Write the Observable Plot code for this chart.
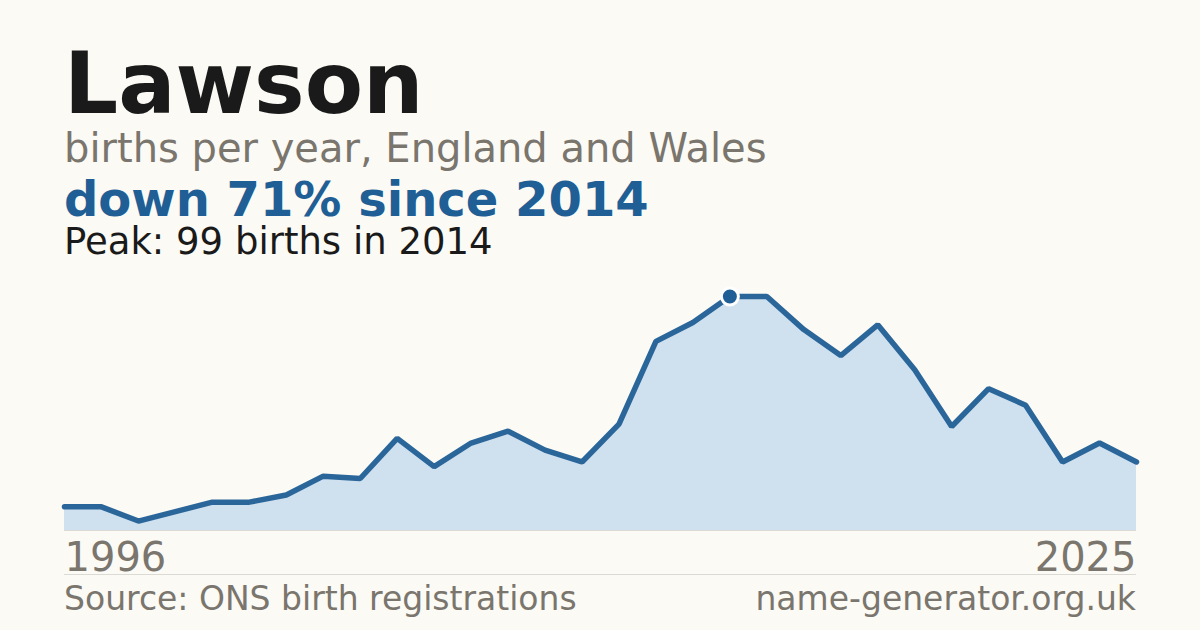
<!DOCTYPE html>
<html>
<head>
<meta charset="utf-8">
<script src="https://cdn.jsdelivr.net/npm/d3@7"></script>
<script src="https://cdn.jsdelivr.net/npm/@observablehq/plot@0.6"></script>
<style>
  html, body { margin: 0; padding: 0; }
  body { width: 1200px; height: 630px; background: #fbfaf5; position: relative; overflow: hidden; font-family: "DejaVu Sans", sans-serif; }
  .t { position: absolute; left: 64px; line-height: 0.9; white-space: nowrap; }
  #title { top: 46px; font-size: 85px; font-weight: bold; color: #1a1a1a; }
  #sub { top: 130px; font-size: 40px; color: #7a756d; }
  #delta { top: 178px; font-size: 48px; font-weight: bold; color: #1f5f96; }
  #peak { top: 225px; font-size: 37px; color: #1a1a1a; }
  #chart { position: absolute; left: 0; top: 270px; }
  #sep { position: absolute; left: 64px; width: 1072px; top: 574px; border-top: 1px solid #dcdad4; }
  #src { top: 584px; font-size: 33px; color: #7a756d; }
  #site { position: absolute; right: 64px; top: 584px; font-size: 33px; line-height: 0.9; color: #7a756d; white-space: nowrap; }
</style>
</head>
<body>
<div class="t" id="title">Lawson</div>
<div class="t" id="sub">births per year, England and Wales</div>
<div class="t" id="delta">down 71% since 2014</div>
<div class="t" id="peak">Peak: 99 births in 2014</div>
<div id="chart"></div>
<div id="sep"></div>
<div class="t" id="src">Source: ONS birth registrations</div>
<div id="site">name-generator.org.uk</div>
<script>
const years = [1996,1997,1998,1999,2000,2001,2002,2003,2004,2005,2006,2007,2008,2009,2010,2011,2012,2013,2014,2015,2016,2017,2018,2019,2020,2021,2022,2023,2024,2025];
const births = [10,10,4,8,12,12,15,23,22,39,27,37,42,34,29,45,80,88,99,99,85,74,87,68,44,60,53,29,37,29];
const firstLabel = ["1996"];
const lastLabel = ["2025"];

const data = years.map((year, i) => ({year, births: births[i]}));
const peakIdx = births.indexOf(d3.max(births));
const peak = [data[peakIdx]];

const chart = Plot.plot({
  width: 1200,
  height: 310,
  marginLeft: 64,
  marginRight: 64,
  marginTop: 26,
  marginBottom: 50,
  x: {domain: [years[0], years[years.length - 1]], axis: null},
  y: {domain: [0, d3.max(births)], axis: null},
  style: {background: "transparent", fontFamily: "DejaVu Sans, sans-serif", overflow: "visible"},
  marks: [
    Plot.areaY(data, {x: "year", y: "births", fill: "#cfe0ef"}),
    Plot.ruleY([0], {stroke: "#dcdad4", strokeWidth: 1}),
    Plot.lineY(data, {x: "year", y: "births", stroke: "#2a6699", strokeWidth: 5.5, strokeLinejoin: "miter"}),
    Plot.dot(peak, {x: "year", y: "births", r: 8.5, fill: "#1f5f96", stroke: "white", strokeWidth: 3}),
    Plot.text(firstLabel, {x: () => years[0], frameAnchor: "bottom", textAnchor: "start", lineAnchor: "bottom", dy: 40, text: d => d, fontSize: 40, fill: "#7a756d"}),
    Plot.text(lastLabel, {x: () => years[years.length - 1], frameAnchor: "bottom", textAnchor: "end", lineAnchor: "bottom", dy: 40, text: d => d, fontSize: 40, fill: "#7a756d"})
  ]
});
document.getElementById("chart").appendChild(chart);
</script>
</body>
</html>
